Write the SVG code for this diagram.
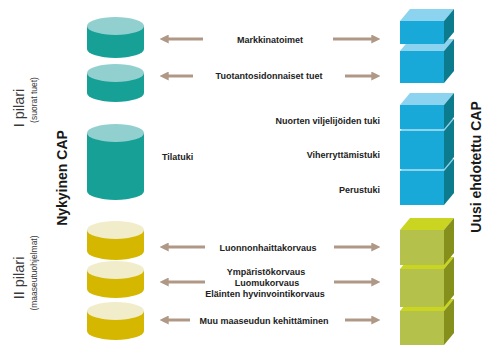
<svg xmlns="http://www.w3.org/2000/svg" width="484" height="347" viewBox="0 0 484 347">
<defs>
<style>
.lbl{font-family:"Liberation Sans",Arial,sans-serif;font-weight:bold;font-size:9px;fill:#222}
.side{font-family:"Liberation Sans",Arial,sans-serif;fill:#3a3a3a}
.title{font-family:"Liberation Sans",Arial,sans-serif;font-weight:bold;font-size:14px;fill:#1a1a1a}
.tb{fill:#16a096}.tt{fill:#92d0d0}
.yb{fill:#d5b700}.yt{fill:#f1ecca}
.bf{fill:#19a9d8}.btp{fill:#8bd3ef}.bs{fill:#0c7b8d}
.gf{fill:#b4c24b}.gtp{fill:#c9d520}.gs{fill:#858f1c}
.arr{stroke:#b09886;stroke-width:3;fill:none;marker-end:url(#ah)}
</style>
<marker id="ah" viewBox="0 0 10 10" refX="3" refY="5" markerWidth="9" markerHeight="9" markerUnits="userSpaceOnUse" orient="auto">
<path d="M0,0 L10,5 L0,10 Z" fill="#b09886"/>
</marker>
</defs>
<rect width="484" height="347" fill="#fff"/>

<!-- left side labels -->
<text class="side" font-size="14.5" transform="translate(24,108) rotate(-90)" text-anchor="middle">I pilari</text>
<text class="side" font-size="8.5" transform="translate(37,100) rotate(-90)" text-anchor="middle">(suorat tuet)</text>
<text class="title" transform="translate(67,178) rotate(-90)" text-anchor="middle">Nykyinen CAP</text>
<text class="side" font-size="14.5" transform="translate(24,278) rotate(-90)" text-anchor="middle">II pilari</text>
<text class="side" font-size="8.5" transform="translate(37,273) rotate(-90)" text-anchor="middle">(maaseutuohjelmat)</text>
<text class="title" transform="translate(481,167) rotate(-90)" text-anchor="middle">Uusi ehdotettu CAP</text>

<!-- cylinders -->
<g id="cyl1"><path class="tb" d="M87,26 V49 A28.5,9 0 0 0 144,49 V26 Z"/><ellipse class="tt" cx="115.5" cy="26" rx="28.5" ry="9"/></g>
<g id="cyl2"><path class="tb" d="M87,73 V93 A28.5,9 0 0 0 144,93 V73 Z"/><ellipse class="tt" cx="115.5" cy="73" rx="28.5" ry="9"/></g>
<g id="cyl3"><path class="tb" d="M87,133 V191 A28.5,9 0 0 0 144,191 V133 Z"/><ellipse class="tt" cx="115.5" cy="133" rx="28.5" ry="9"/></g>
<g id="cyl4"><path class="yb" d="M87,230 V251 A28.5,9 0 0 0 144,251 V230 Z"/><ellipse class="yt" cx="115.5" cy="230" rx="28.5" ry="9"/></g>
<g id="cyl5"><path class="yb" d="M87,270 V289 A28.5,9 0 0 0 144,289 V270 Z"/><ellipse class="yt" cx="115.5" cy="270" rx="28.5" ry="9"/></g>
<g id="cyl6"><path class="yb" d="M87,311 V331 A28.5,9 0 0 0 144,331 V311 Z"/><ellipse class="yt" cx="115.5" cy="311" rx="28.5" ry="9"/></g>

<!-- blue cubes (drawn bottom to top) -->
<g id="cube5"><rect class="bf" x="400" y="171" width="44" height="34"/><polygon class="btp" points="400,171 410,159 454,159 444,171"/><polygon class="bs" points="444,171 454,159 454,193 444,205"/></g>
<g id="cube4"><rect class="bf" x="400" y="131" width="44" height="38"/><polygon class="btp" points="400,131 410,119 454,119 444,131"/><polygon class="bs" points="444,131 454,119 454,157 444,169"/></g>
<g id="cube3"><rect class="bf" x="400" y="105" width="44" height="24"/><polygon class="btp" points="400,105 410,93 454,93 444,105"/><polygon class="bs" points="444,105 454,93 454,117 444,129"/></g>
<g id="cube2"><rect class="bf" x="400" y="51" width="44" height="32"/><polygon class="btp" points="400,51 410,39 454,39 444,51"/><polygon class="bs" points="444,51 454,39 454,71 444,83"/></g>
<g id="cube1"><rect class="bf" x="400" y="21" width="44" height="23"/><polygon class="btp" points="400,21 410,9 454,9 444,21"/><polygon class="bs" points="444,21 454,9 454,32 444,44"/></g>

<!-- green cubes -->
<g id="cube8"><rect class="gf" x="400" y="311" width="44" height="34"/><polygon class="gtp" points="400,311 410,299 454,299 444,311"/><polygon class="gs" points="444,311 454,299 454,333 444,345"/></g>
<g id="cube7"><rect class="gf" x="400" y="269" width="44" height="38"/><polygon class="gtp" points="400,269 410,257 454,257 444,269"/><polygon class="gs" points="444,269 454,257 454,295 444,307"/></g>
<g id="cube6"><rect class="gf" x="400" y="230" width="44" height="35"/><polygon class="gtp" points="400,230 410,218 454,218 444,230"/><polygon class="gs" points="444,230 454,218 454,253 444,265"/></g>

<!-- connectors -->
<g id="connectors">
<line class="arr" x1="203" y1="39" x2="166" y2="39"/>
<line class="arr" x1="333" y1="39" x2="374" y2="39"/>
<line class="arr" x1="193" y1="76" x2="166" y2="76"/>
<line class="arr" x1="345" y1="76" x2="374" y2="76"/>
<line class="arr" x1="205" y1="247" x2="166" y2="247"/>
<line class="arr" x1="334" y1="247" x2="374" y2="247"/>
<line class="arr" x1="205" y1="282" x2="166" y2="282"/>
<line class="arr" x1="334" y1="282" x2="374" y2="282"/>
<line class="arr" x1="190" y1="320" x2="166" y2="320"/>
<line class="arr" x1="345" y1="320" x2="374" y2="320"/>
</g>

<!-- labels -->
<g id="labels">
<text class="lbl" x="270" y="43" text-anchor="middle">Markkinatoimet</text>
<text class="lbl" x="269" y="79" text-anchor="middle">Tuotantosidonnaiset tuet</text>
<text class="lbl" x="380" y="124" text-anchor="end">Nuorten viljelijöiden tuki</text>
<text class="lbl" x="380" y="158" text-anchor="end">Viherryttämistuki</text>
<text class="lbl" x="380" y="193" text-anchor="end">Perustuki</text>
<text class="lbl" x="162" y="160">Tilatuki</text>
<text class="lbl" x="268" y="251" text-anchor="middle">Luonnonhaittakorvaus</text>
<text class="lbl" x="266" y="275" text-anchor="middle">Ympäristökorvaus</text>
<text class="lbl" x="267" y="286" text-anchor="middle">Luomukorvaus</text>
<text class="lbl" x="265" y="297" text-anchor="middle">Eläinten hyvinvointikorvaus</text>
<text class="lbl" x="264" y="324" text-anchor="middle">Muu maaseudun kehittäminen</text>
</g>
</svg>
